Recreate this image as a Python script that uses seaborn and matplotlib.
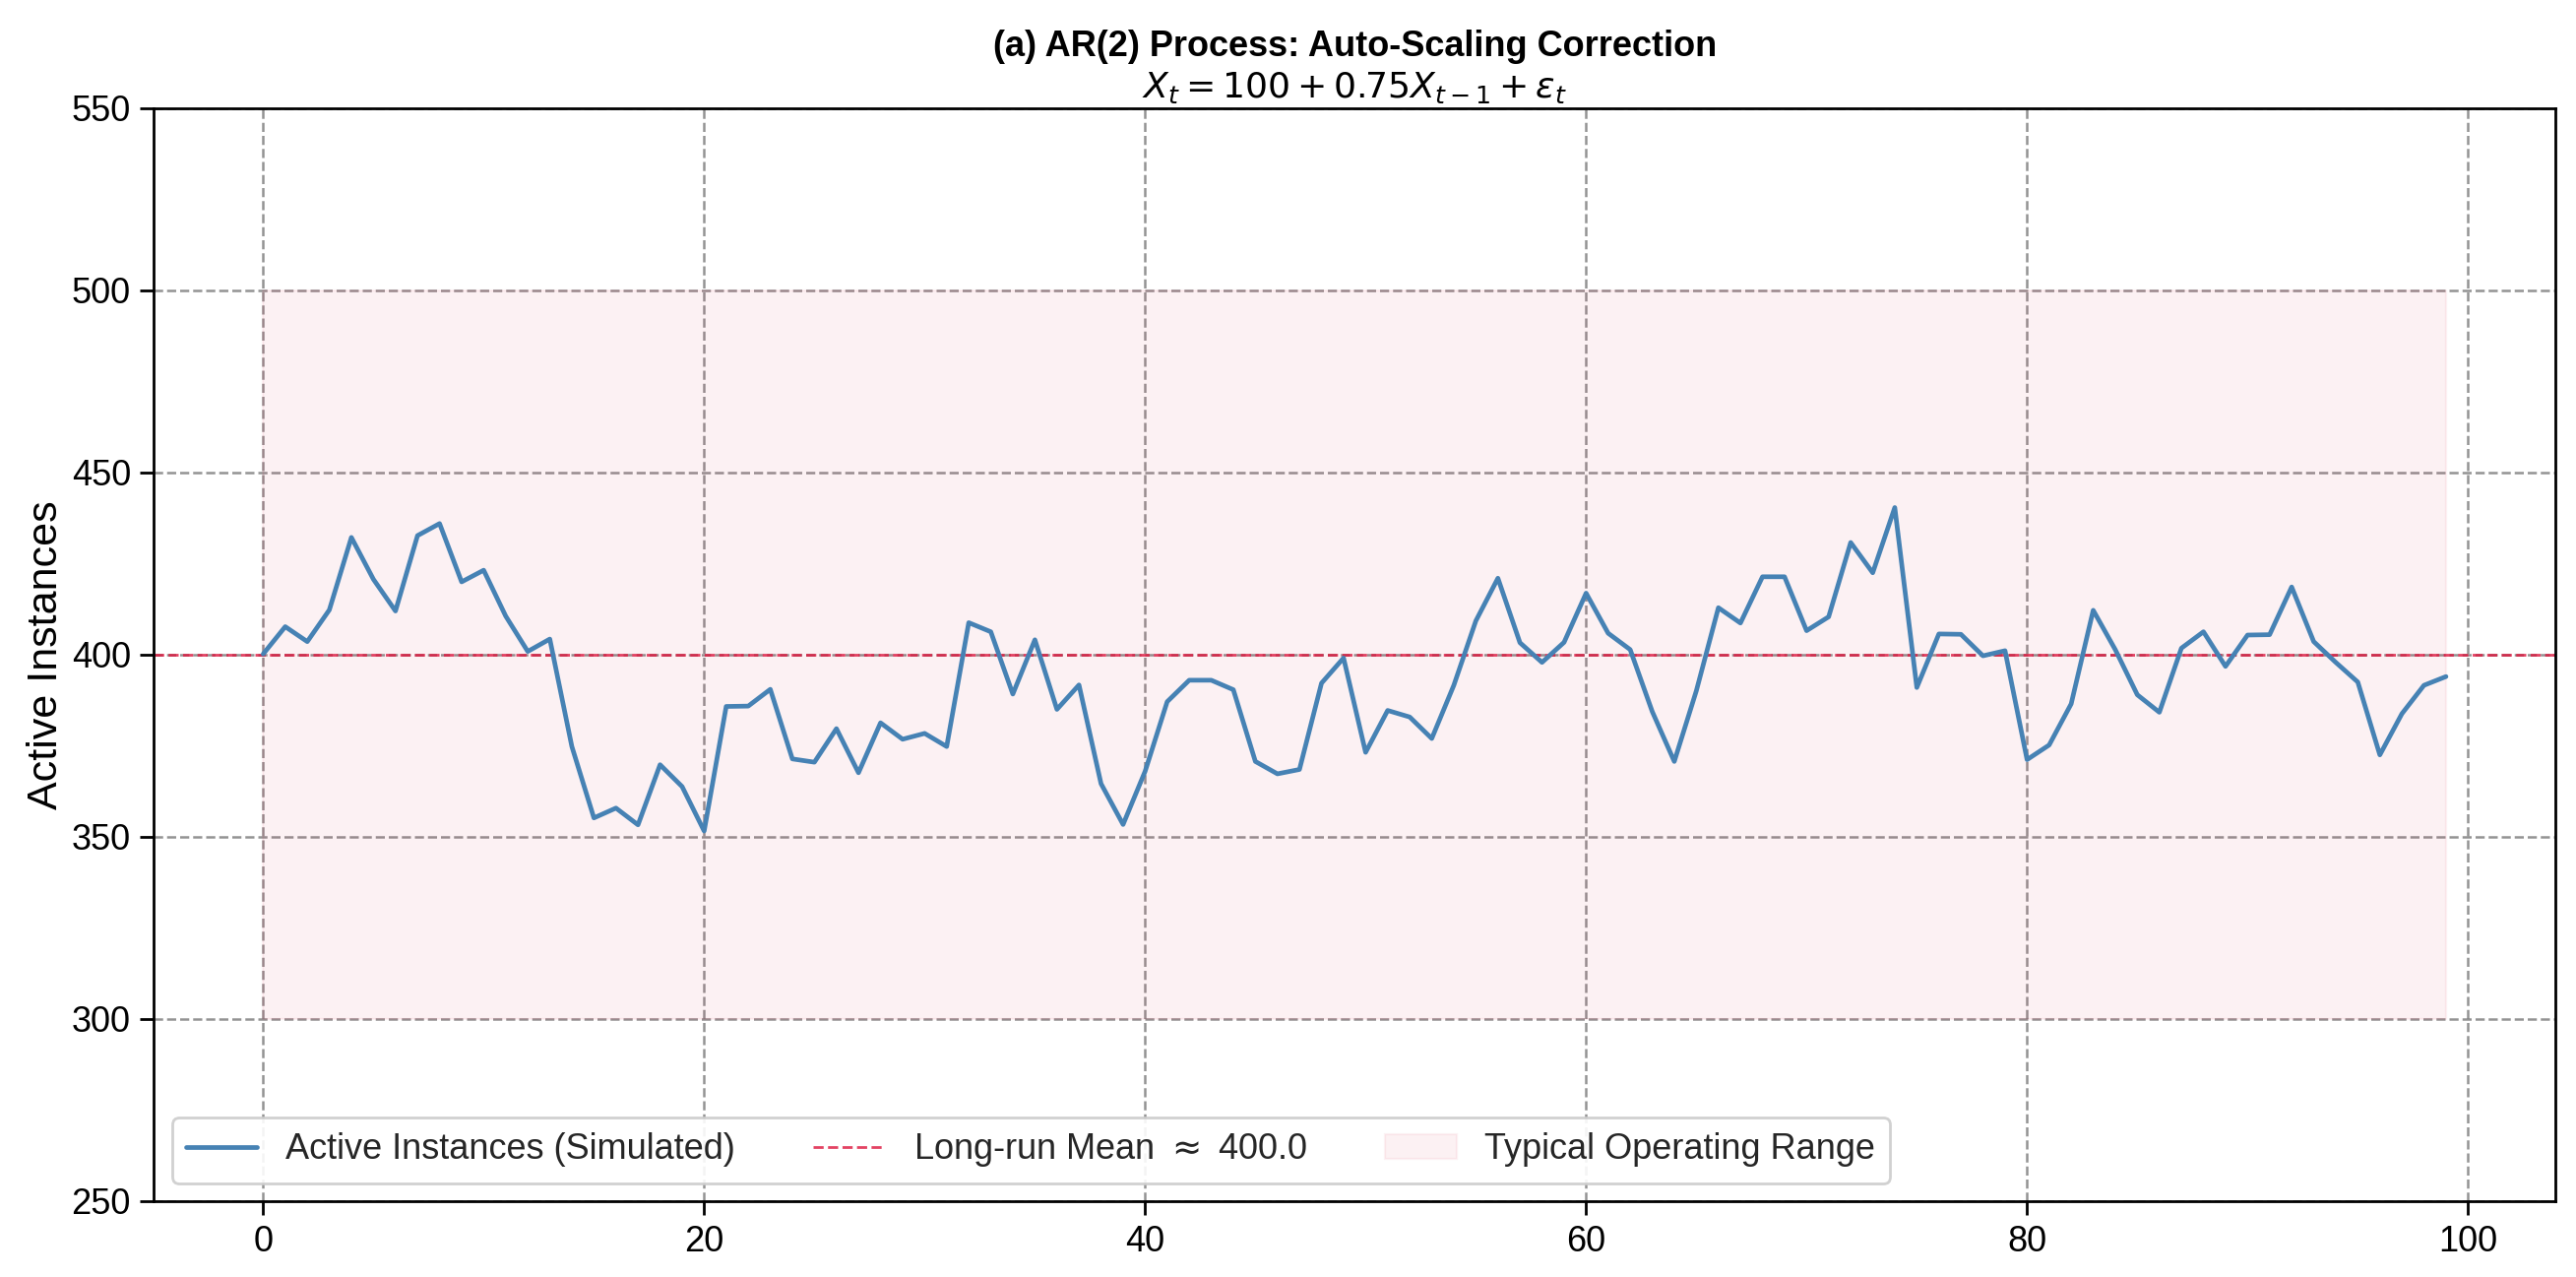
import numpy as np
import pandas as pd
import matplotlib
matplotlib.use("Agg")
import matplotlib.pyplot as plt
import seaborn as sns

# ---- data ----
time_steps = list(range(100))
active_instances = [
    400.2, 407.7, 403.6, 412.3, 432.2, 420.7, 412.0, 432.7, 436.0, 420.0,
    423.2, 410.6, 400.9, 404.3, 374.8, 355.2, 357.9, 353.3, 369.8, 363.8,
    351.6, 385.8, 385.9, 390.5, 371.4, 370.5, 379.7, 367.6, 381.3, 376.8,
    378.4, 374.8, 408.8, 406.3, 389.2, 404.1, 385.0, 391.7, 364.6, 353.4,
    368.0, 387.1, 393.0, 393.0, 390.4, 370.7, 367.3, 368.5, 392.2, 399.1,
    373.2, 384.7, 382.9, 377.0, 391.6, 409.3, 421.0, 403.3, 397.9, 403.4,
    416.9, 405.9, 401.4, 384.4, 370.7, 390.1, 412.9, 408.7, 421.4, 421.4,
    406.6, 410.4, 430.8, 422.5, 440.4, 391.0, 405.7, 405.6, 399.7, 401.1,
    371.2, 375.2, 386.5, 412.2, 401.4, 389.0, 384.2, 401.8, 406.3, 396.8,
    405.4, 405.5, 418.6, 403.6, 397.9, 392.5, 372.5, 383.8, 391.6, 394.0,
]
long_run_mean = 400.0
range_low = 300
range_high = 500
y_ticks = [250, 300, 350, 400, 450, 500, 550]
x_ticks = [0, 20, 40, 60, 80, 100]

df = pd.DataFrame({"t": time_steps, "value": active_instances})

sns.set_theme(style="ticks")
plt.rcParams["font.family"] = ["Liberation Sans", "DejaVu Sans"]
plt.rcParams["mathtext.fontset"] = "dejavusans"

fig = plt.figure(figsize=(2617 / 200, 1297 / 200), dpi=200)
ax = fig.add_axes([0.0598, 0.0594, 0.9919 - 0.0598, 0.9152 - 0.0594])

ax.fill_between(time_steps, range_low, range_high, facecolor="crimson", alpha=0.06,
                edgecolor="crimson", linewidth=0.8, label="Typical Operating Range", zorder=1)
sns.lineplot(data=df, x="t", y="value", ax=ax, color="steelblue", linewidth=1.7,
             label="Active Instances (Simulated)", zorder=3)
ax.axhline(long_run_mean, color="crimson", linestyle="--", linewidth=1.0, alpha=0.8,
           label=r"Long-run Mean $\approx$ 400.0", zorder=2)

ax.set_ylim(250, 550)
ax.set_xlim(-4.95, 103.95)
ax.set_yticks(y_ticks)
ax.set_xticks(x_ticks)
ax.tick_params(axis="both", labelsize=13, length=5, width=1, color="black", labelcolor="black")
ax.grid(True, color="gray", linestyle="--", linewidth=0.9, alpha=0.85)
ax.set_axisbelow(True)
for s in ax.spines.values():
    s.set_color("black")
    s.set_linewidth(1.0)

ax.set_xlabel("")
ax.set_ylabel("Active Instances", fontsize=15.5, color="black", labelpad=2)
ax.set_title("(a) AR(2) Process: Auto-Scaling Correction\n"
             r"$X_t = 100 + 0.75X_{t-1} + \varepsilon_t$",
             fontsize=13, fontweight="bold", color="black", pad=4)

handles, labels = ax.get_legend_handles_labels()
order = [labels.index("Active Instances (Simulated)"),
         labels.index(r"Long-run Mean $\approx$ 400.0"),
         labels.index("Typical Operating Range")]
ax.legend([handles[i] for i in order], [labels[i] for i in order],
          loc="lower left", ncol=3, fontsize=13, frameon=True,
          edgecolor="#cccccc", framealpha=0.9, columnspacing=2.2)

fig.savefig("out.png", dpi=200)
